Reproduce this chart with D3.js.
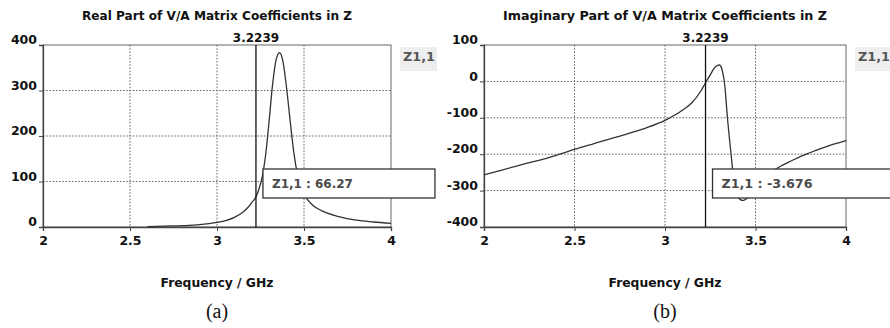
<!DOCTYPE html>
<html>
<head>
<meta charset="utf-8">
<script src="https://cdn.jsdelivr.net/npm/d3@7"></script>
<style>
  body { margin: 0; background: #fff; }
  text { font-family: "DejaVu Sans", sans-serif; font-weight: bold; }
</style>
</head>
<body>
<svg id="chart" width="890" height="328"></svg>
<script>
// frequency ticks (GHz)
const freqTicks = [2, 2.5, 3, 3.5, 4];
const markerFreq = 3.2239;

// real part of Z1,1
const realFreq = [2.6, 2.7, 2.8, 2.9, 3.0, 3.05, 3.1, 3.15, 3.18, 3.2, 3.2239, 3.24, 3.26, 3.28, 3.3, 3.32, 3.34, 3.36, 3.38, 3.4, 3.42, 3.44, 3.46, 3.48, 3.5, 3.55, 3.6, 3.7, 3.8, 3.9, 4.0];
const realVal  = [1, 2, 3, 5, 10, 14, 21, 33, 44, 54, 66.27, 82, 110, 160, 235, 315, 368, 383, 362, 305, 235, 168, 120, 90, 72, 48, 36, 23, 15, 11, 8];
const realTicks = [0, 100, 200, 300, 400];

// imaginary part of Z1,1
const imagFreq = [2.0, 2.2, 2.4, 2.5, 2.6, 2.8, 2.9, 3.0, 3.1, 3.15, 3.2, 3.2239, 3.25, 3.27, 3.29, 3.3, 3.31, 3.32, 3.33, 3.345, 3.365, 3.385, 3.4, 3.43, 3.46, 3.5, 3.55, 3.6, 3.65, 3.7, 3.75, 3.8, 3.9, 4.0];
const imagVal  = [-257, -230, -203, -187, -172, -143, -127, -107, -78, -58, -25, -3.676, 18, 35, 44, 45, 40, 22, -10, -100, -200, -290, -315, -327, -318, -292, -268, -245, -230, -218, -206, -196, -178, -163];
const imagTicks = [-400, -300, -200, -100, 0, 100];

const svg = d3.select("#chart");

function drawPanel(p) {
  const x = d3.scaleLinear().domain([2, 4]).range([p.left, p.right]);
  const y = d3.scaleLinear().domain(d3.extent(p.yTicks)).range([227, 45]);
  const g = svg.append("g");

  // grid
  g.append("g").selectAll("line")
    .data(freqTicks.slice(1, -1))
    .join("line")
      .attr("x1", d => x(d)).attr("x2", d => x(d))
      .attr("y1", 45).attr("y2", 227)
      .attr("stroke", "#666").attr("stroke-dasharray", "1.6,1.6");
  g.append("g").selectAll("line")
    .data(p.yTicks.slice(1, -1))
    .join("line")
      .attr("x1", p.left).attr("x2", p.right)
      .attr("y1", d => y(d)).attr("y2", d => y(d))
      .attr("stroke", "#666").attr("stroke-dasharray", "1.6,1.6");

  // frame
  g.append("rect")
    .attr("x", p.left).attr("y", 45)
    .attr("width", p.right - p.left).attr("height", 182)
    .attr("fill", "none").attr("stroke", "#666");

  // axes
  const xAxis = g.append("g")
    .attr("transform", "translate(0,227)")
    .call(d3.axisBottom(x).tickValues(freqTicks).tickSize(4).tickFormat(d => String(d)));
  const yAxis = g.append("g")
    .attr("transform", `translate(${p.left},0)`)
    .call(d3.axisLeft(y).tickValues(p.yTicks).tickSize(4).tickFormat(d => String(d)));
  [xAxis, yAxis].forEach(a => {
    a.select(".domain").attr("stroke", "#444").attr("stroke-width", 1.3);
    a.selectAll(".tick line").attr("stroke", "#444");
    a.selectAll("text").attr("font-size", 12.5).attr("fill", "#111");
  });
  xAxis.selectAll("text").attr("dy", "0.9em");
  yAxis.selectAll("text").attr("dy", "-0.1em").attr("x", -6);

  // curve
  const pts = p.freq.map((f, i) => [f, p.val[i]]);
  g.append("path")
    .datum(pts)
    .attr("fill", "none").attr("stroke", "#333").attr("stroke-width", 1.3)
    .attr("d", d3.line().x(d => x(d[0])).y(d => y(d[1])).curve(d3.curveMonotoneX));

  // marker
  g.append("line")
    .attr("x1", x(markerFreq)).attr("x2", x(markerFreq))
    .attr("y1", 45).attr("y2", 227)
    .attr("stroke", "#111").attr("stroke-width", 1.3);
  g.append("text")
    .attr("x", x(markerFreq)).attr("y", 42)
    .attr("text-anchor", "middle").attr("font-size", 12).attr("fill", "#111")
    .text(markerFreq.toFixed(4));

  // title
  g.append("text")
    .attr("x", (p.left + p.right) / 2).attr("y", 20)
    .attr("text-anchor", "middle").attr("font-size", 12.5).attr("fill", "#111")
    .attr("textLength", p.titleLen).attr("lengthAdjust", "spacingAndGlyphs")
    .text(p.title);

  // series label
  g.append("rect")
    .attr("x", p.right + 9).attr("y", 47).attr("width", 37).attr("height", 24)
    .attr("fill", "#eeeeee");
  g.append("text")
    .attr("x", p.right + 12).attr("y", 61)
    .attr("font-size", 12).attr("fill", "#555")
    .attr("textLength", 32).attr("lengthAdjust", "spacingAndGlyphs")
    .text("Z1,1");

  // readout box
  g.append("rect")
    .attr("x", x(markerFreq) + 7).attr("y", 169)
    .attr("width", p.boxW).attr("height", 29)
    .attr("fill", "#fff").attr("stroke", "#333").attr("stroke-width", 1.3);
  g.append("text")
    .attr("x", x(markerFreq) + 16).attr("y", 188)
    .attr("font-size", 13).attr("fill", "#4a4a4a")
    .attr("textLength", p.readLen).attr("lengthAdjust", "spacingAndGlyphs")
    .text("Z1,1 : " + p.readout);

  // x axis title
  g.append("text")
    .attr("x", (p.left + p.right) / 2).attr("y", 287)
    .attr("text-anchor", "middle").attr("font-size", 12.5).attr("fill", "#111")
    .attr("textLength", 113).attr("lengthAdjust", "spacingAndGlyphs")
    .text("Frequency / GHz");

  // caption
  g.append("text")
    .attr("x", (p.left + p.right) / 2).attr("y", 318)
    .attr("text-anchor", "middle").attr("font-size", 20)
    .style("font-family", "'Liberation Serif', serif").style("font-weight", "normal")
    .attr("fill", "#111")
    .text(p.caption);
}

drawPanel({
  left: 43, right: 391, yTicks: realTicks,
  freq: realFreq, val: realVal,
  title: "Real Part of V/A Matrix Coefficients in Z", titleLen: 270,
  readout: "66.27", readLen: 81, boxW: 172, caption: "(a)"
});
drawPanel({
  left: 484, right: 846, yTicks: imagTicks,
  freq: imagFreq, val: imagVal,
  title: "Imaginary Part of V/A Matrix Coefficients in Z", titleLen: 324,
  readout: "-3.676", readLen: 91, boxW: 190, caption: "(b)"
});
</script>
</body>
</html>
